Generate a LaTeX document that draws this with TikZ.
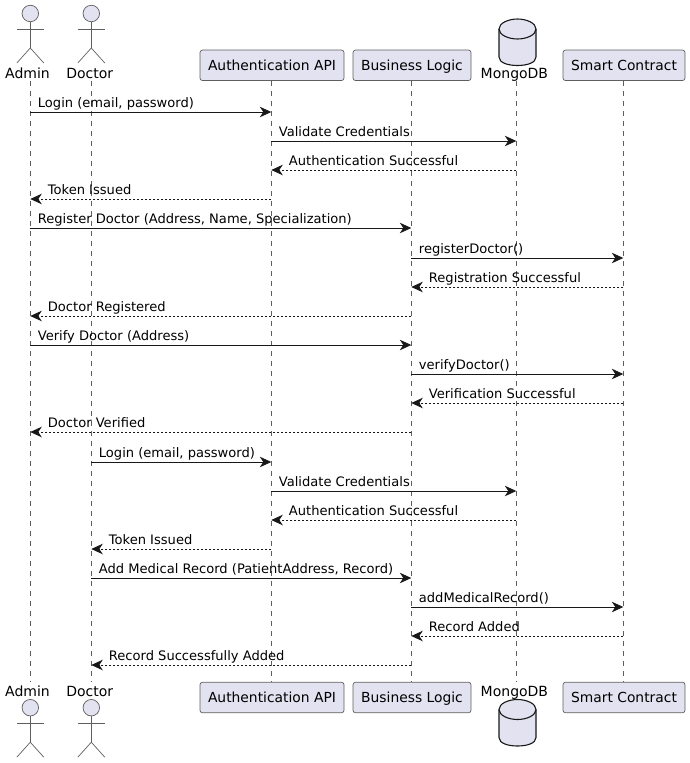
\documentclass[tikz,border=0pt]{standalone}
\usepackage{fontspec}
\setmainfont{DejaVu Sans}
\usetikzlibrary{arrows.meta}

\definecolor{partfill}{HTML}{E2E2F0}
\definecolor{partline}{HTML}{5F5F5F}
\definecolor{msgline}{HTML}{181818}

\tikzset{
  partbox/.style={draw=partline, fill=partfill, line width=0.7pt, rounded corners=2.5pt,
    minimum height=30.5pt, inner sep=0pt, text height=11.8pt, text depth=2.2pt,
    font=\fontsize{13.85}{16}\selectfont},
  partname/.style={inner sep=0pt, anchor=base, font=\fontsize{14}{16}\selectfont},
  figline/.style={draw=partline, line width=0.7pt},
  dbline/.style={draw=msgline, fill=partfill, line width=1.1pt},
  lifeline/.style={draw=partline, line width=0.6pt, dash pattern=on 5pt off 5pt},
  reqline/.style={draw=msgline, line width=0.8pt, -{Stealth[length=11.5pt,width=10.5pt,inset=3.5pt]}},
  respline/.style={reqline, dash pattern=on 2pt off 2pt},
  msglabel/.style={inner sep=0pt, anchor=base west, font=\fontsize{13.07}{15}\selectfont}
}

% (name, x, head y)
\newcommand{\stickman}[3]{
  \node[figline, fill=partfill, circle, minimum size=16.5pt, inner sep=0pt] (#1head) at (#2,#3) {};
  \draw[figline] (#2-13.5,#3+15.5) -- (#2+13.5,#3+15.5);
  \draw[figline] (#1head.south) -- (#2,#3+34.5);
  \draw[figline] (#2-13.5,#3+49.5) -- (#2,#3+34.5) -- (#2+13.5,#3+49.5);
}
% (name, x, top y)
\newcommand{\dbdrum}[3]{
  \draw[dbline] (#2-18.5,#3+10) -- (#2-18.5,#3+38)
    .. controls (#2-18.5,#3+44) and (#2-9,#3+46.5) .. (#2,#3+46.5)
    .. controls (#2+9,#3+46.5) and (#2+18.5,#3+44) .. (#2+18.5,#3+38)
    -- (#2+18.5,#3+10)
    .. controls (#2+18.5,#3+4) and (#2+9,#3) .. (#2,#3)
    .. controls (#2-9,#3) and (#2-18.5,#3+4) .. (#2-18.5,#3+10) -- cycle;
  \draw[dbline, fill=none] (#2-18.5,#3+10)
    .. controls (#2-18.5,#3+16) and (#2-9,#3+20) .. (#2,#3+20)
    .. controls (#2+9,#3+20) and (#2+18.5,#3+16) .. (#2+18.5,#3+10);
}
% (from, to, y, text)
\newcommand{\reqmsg}[4]{
  \coordinate (s#3) at (#1 |- 0,#3);
  \coordinate (e#3) at (#2 |- 0,#3);
  \draw[reqline] (s#3) -- (e#3);
  \node[msglabel] (t#3) at ([xshift=7.4pt,yshift=4.4pt]s#3) {#4};
}
\newcommand{\respmsg}[4]{
  \coordinate (s#3) at (#1 |- 0,#3);
  \coordinate (e#3) at (#2 |- 0,#3);
  \draw[respline] (s#3) -- (e#3);
  \node[msglabel] (t#3) at ([xshift=17.4pt,yshift=4.4pt]e#3) {#4};
}

\begin{document}
\begin{tikzpicture}[x=1pt,y=-1pt]
  \useasboundingbox (0,0) rectangle (690,763);

  % lifeline positions
  \coordinate (admin) at (30.3,81);
  \coordinate (doctor) at (91.3,81);
  \coordinate (auth) at (271.3,81);
  \coordinate (logic) at (411.3,81);
  \coordinate (mongo) at (516.3,81);
  \coordinate (contract) at (623.3,81);

  \foreach \part in {admin,doctor,auth,logic,mongo,contract}{
    \draw[lifeline] (\part) -- (\part |- 0,682);
  }

  % head row
  \stickman{admintop}{30.3}{13.5}
  \stickman{doctortop}{91.3}{13.5}
  \node[partname] (adminname) at (27.5,78.4) {Admin};
  \node[partname] (doctorname) at (89.7,78.4) {Doctor};
  \node[partbox, minimum width=144pt] (authtop) at (272,65.3) {Authentication API};
  \node[partbox, minimum width=118pt] (logictop) at (412,65.3) {Business Logic};
  \dbdrum{mongotop}{517.5}{19}
  \node[partname] (mongoname) at (514.4,78.4) {MongoDB};
  \node[partbox, minimum width=122pt] (contracttop) at (624,65.3) {Smart Contract};

  % foot row
  \node[partname] (adminfoot) at (27.5,696.4) {Admin};
  \node[partname] (doctorfoot) at (89.7,696.4) {Doctor};
  \stickman{adminbot}{30.3}{707.7}
  \stickman{doctorbot}{91.3}{707.7}
  \node[partbox, minimum width=144pt] (authbot) at (272,697.5) {Authentication API};
  \node[partbox, minimum width=118pt] (logicbot) at (412,697.5) {Business Logic};
  \node[partname] (mongofoot) at (514.4,696.4) {MongoDB};
  \dbdrum{mongobot}{517.5}{699.5}
  \node[partbox, minimum width=122pt] (contractbot) at (624,697.5) {Smart Contract};

  % messages
  \reqmsg{admin}{auth}{112}{Login (email, password)}
  \reqmsg{auth}{mongo}{141}{Validate Credentials}
  \respmsg{mongo}{auth}{170}{Authentication Successful}
  \respmsg{auth}{admin}{199}{Token Issued}
  \reqmsg{admin}{logic}{228}{Register Doctor (Address, Name, Specialization)}
  \reqmsg{logic}{contract}{258}{registerDoctor()}
  \respmsg{contract}{logic}{287}{Registration Successful}
  \respmsg{logic}{admin}{316}{Doctor Registered}
  \reqmsg{admin}{logic}{345}{Verify Doctor (Address)}
  \reqmsg{logic}{contract}{374}{verifyDoctor()}
  \respmsg{contract}{logic}{403}{Verification Successful}
  \respmsg{logic}{admin}{432}{Doctor Verified}
  \reqmsg{doctor}{auth}{462}{Login (email, password)}
  \reqmsg{auth}{mongo}{491}{Validate Credentials}
  \respmsg{mongo}{auth}{520}{Authentication Successful}
  \respmsg{auth}{doctor}{549}{Token Issued}
  \reqmsg{doctor}{logic}{578}{Add Medical Record (PatientAddress, Record)}
  \reqmsg{logic}{contract}{607}{addMedicalRecord()}
  \respmsg{contract}{logic}{636}{Record Added}
  \respmsg{logic}{doctor}{665}{Record Successfully Added}

\end{tikzpicture}
\end{document}
